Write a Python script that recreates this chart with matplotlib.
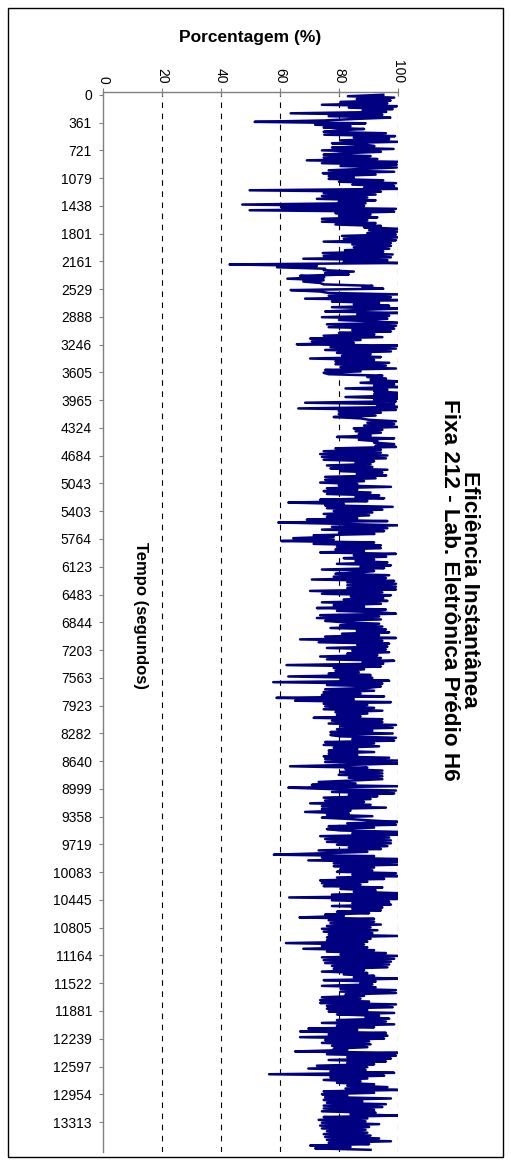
import numpy as np
import matplotlib
matplotlib.use("Agg")
import matplotlib.pyplot as plt
from matplotlib.patches import Rectangle

plt.rcParams["font.family"] = ["Liberation Sans", "DejaVu Sans"]

# efficiency (%) from top to bottom, one list per stretch of the axis
seg01 = [95, 83, 98.7, 86, 97.5, 80.5, 96.4, 74.2, 99.6, 83.3, 98.2, 88, 96, 63.6, 94.7, 76.5, 97.4, 85,
         75.3, 51.4, 89.0, 71.9, 83.9, 74.8, 88.5, 80, 74.8, 95.9, 75.0, 99.0, 85, 97, 80.5, 99.9, 77.6,
         89.0, 92, 77.6, 98.5, 74.2, 94.2, 82, 74.8, 90.7, 74.8, 93.0, 69.1, 99.9, 74.2, 99.6, 80.5, 99.6,
         88, 76.5, 98.7]
seg02 = [74.5, 92.4, 76.5, 85.0, 76.5, 95, 80, 99.3, 84.5, 98.7, 88.5, 99.9, 49.7, 94.2, 74.8, 92.4, 74.2,
         89.6, 72.5, 92.4, 79.9, 89.0, 47.2, 88.5, 60.5, 99.3, 49.7, 98.7, 78.8, 90.7, 80, 93, 74.2, 89.6,
         74.2, 92.4, 78.8, 94.2, 88.5, 99.9, 90.2, 99.9, 89.6, 99.3, 81.0, 99.9, 81.6, 99.3, 74.8, 97.6,
         84.5, 97.6, 85.0, 97.0, 82, 95, 74.5, 98.2, 74.8, 97.6, 67.9, 96.4]
seg03 = [81.6, 99.9, 42.9, 72.5, 59.0, 75.3, 74.8, 85.0, 75.3, 83.3, 66.8, 75.0, 62.5, 74.8, 67.9, 73.6,
         74.8, 91.3, 88, 95, 63.6, 73.6, 76.5, 99.9, 76.5, 97.6, 68.5, 99.9, 77.6, 93.6, 85, 97, 77.6, 99.9,
         86.2, 75.3, 99.9, 86.2, 97.0, 74.2, 96.4, 80, 93.0, 99.9, 75.9, 99.3, 76.5, 98.7, 84.5, 97.6, 80,
         92, 74.8, 94.7, 70.2, 87.3, 70.8, 85.0, 65.7, 99.9, 77.1, 99.3]
seg04 = [75.3, 97.6, 79.3, 90.7, 81.0, 94.2, 70.2, 91.9, 78.8, 97.0, 78.8, 95.9, 80.5, 99.3, 75.3, 87.3,
         74.8, 76.5, 94.7, 89.6, 95.9, 90.7, 99.9, 87.3, 98.7, 91.9, 99.9, 82.2, 96.4, 91.9, 99.9, 91.9,
         99.9, 82.2, 99.9, 91.9, 99.3, 68.5, 98.7, 93.0, 99.9, 66.2, 99.3, 79.9, 94.2, 79.9, 92.4, 78.2,
         87.3, 90.2, 99.3, 89.6, 98.7, 88.5, 99.9, 85.0, 94.7, 85.6, 94.2, 86.7, 90.7]
seg05 = [79.3, 98.7, 86.7, 93.0, 91.9, 98.7, 92.4, 99.3, 78.8, 94.2, 74.8, 94.2, 73.6, 96.4, 74.2, 95.9,
         74.8, 91.9, 85.6, 90.7, 75.9, 91.3, 77.1, 96.4, 80.5, 94.7, 86, 96, 75.3, 92.4, 75.3, 88.5, 73.6,
         86.2, 79.9, 97.6, 75.9, 86.2, 74.8, 90.7, 75.9, 93.6, 85.6, 95.3, 73.6, 89.6, 62.8, 81.6, 75.3,
         98.2, 75.9, 94.7, 78.2, 91.3, 74.8, 90.2, 75.9, 86.2, 69.1, 96.4, 59.4, 81.6]
seg06 = [99.9, 77.6, 96.4, 74.2, 95.3, 80, 92, 71.4, 78.2, 64.5, 78.2, 60.5, 91.9, 71.4, 94.2, 79.3, 94.2,
         78.8, 88.5, 73.6, 99.3, 85, 96, 81.6, 91.9, 85.6, 96.4, 79.3, 97.6, 87.3, 95.3, 74.2, 91.9, 87.3,
         78.8, 97.0, 78.2, 95.9, 70.8, 98.7, 82.8, 99.3, 82.8, 99.3, 82.8, 99.3, 70.2, 94.7, 74.2, 97.6,
         84, 95, 81.6, 96.4, 74.2, 94.2, 78.2, 88.5, 72.5, 95.9, 79.3, 94.2]
seg07 = [99.3, 73.6, 93.6, 72.5, 94.2, 75.3, 81.6, 93.6, 80.5, 94.7, 77.1, 95.9, 86, 97, 81.0, 93.6, 75.3,
         99.3, 66.8, 94.7, 73.1, 97.0, 86.2, 96.4, 75.9, 95.9, 84.5, 97.0, 82.8, 93.0, 73.6, 94.2, 75.9,
         98.7, 88, 95, 62.2, 94.2, 78.2, 88.5, 78.8, 86.7, 76.5, 90.7, 62.8, 91.3, 80.5, 97.0, 57.7, 94.7,
         75.9, 94.2, 90, 75.3, 91.9, 74.8, 87.3, 74.2, 95.3, 58.8, 85.0, 65.1]
seg08 = [97.6, 74.8, 89.6, 75.3, 91.9, 74.8, 94.7, 78.8, 89.6, 79.3, 87.3, 71.4, 94.7, 77.6, 94.7, 76.5,
         99.3, 80.5, 98.2, 79.3, 91.3, 77.1, 98.2, 77.1, 80.5, 99.3, 84.5, 98.7, 75.3, 91.9, 74.8, 93.6,
         78.2, 86.2, 76.5, 91.9, 76.5, 86.2, 74.8, 97.0, 75.3, 99.9, 75.3, 99.9, 83.9, 63.4, 89.6, 82.2,
         94.7, 80.5, 94.7, 79.9, 94.7, 83.3, 94.7, 84.5, 73.1, 85.6, 70.8, 99.9, 62.8]
seg09 = [77.6, 99.3, 77.6, 98.7, 83.3, 93.0, 74.8, 90.7, 75.3, 88.5, 70.2, 90.7, 74.2, 95.9, 74.2, 83.9,
         68.5, 83.3, 75.9, 91.3, 74.2, 83.9, 90.7, 99.9, 82.8, 99.3, 76.5, 91.9, 75.9, 80.5, 99.9, 84.5,
         99.9, 73.6, 97.0, 75.3, 97.6, 75.9, 97.6, 79.3, 96.4, 83.3, 94.2, 73.1, 89.6, 74.8, 57.9, 91.9,
         74.2, 99.9, 69.6, 99.9, 78.2, 99.9, 78.2, 91.9, 80.5, 91.3, 79.3, 99.3, 84.5, 99.9]
seg10 = [79.3, 95.3, 73.6, 89.6, 74.2, 87.3, 74.8, 94.7, 80.5, 92.4, 85.0, 99.9, 77.6, 99.9, 63.1, 99.9,
         77.6, 97.0, 84.5, 97.6, 77.6, 94.7, 84.5, 94.2, 79.3, 90.2, 75.3, 81.6, 66.6, 91.9, 76.5, 91.9,
         77.1, 94.2, 75.9, 90.7, 74.2, 93.0, 74.8, 91.3, 76.5, 99.9, 75.9, 90.7, 75.9, 89.6, 62.0, 88.5,
         74.2, 89.6, 67.9, 91.9, 75.9, 95.9, 80.5, 99.9, 74.2, 98.7, 74.8, 97.6, 75.3, 97.0]
seg11 = [77.6, 96.4, 78.2, 88.5, 74.2, 89.6, 81.6, 91.9, 85.0, 99.9, 74.8, 92.4, 87.3, 91.3, 74.2, 92.4,
         80.5, 99.3, 80.5, 99.3, 82.2, 88.5, 74.2, 87.3, 73.6, 90.2, 73.6, 99.3, 75.9, 98.2, 75.9, 89.6,
         76.5, 98.7, 79.3, 93.6, 89.0, 97.0, 79.3, 95.9, 74.2, 98.7, 79.3, 91.9, 69.6, 86.2, 66.8, 95.9,
         76.5, 96.4, 66.8, 95.3, 75.3, 90.2, 74.2, 90.7, 77.6, 89.6, 78.2, 82.8, 65.1, 99.9]
seg12 = [75.9, 99.3, 82.8, 97.6, 76.5, 95.9, 82.8, 91.9, 72.5, 89.6, 69.6, 89.0, 77.1, 98.7, 56.3, 95.3,
         77.1, 89.6, 74.8, 87.3, 79.3, 91.9, 82.8, 96.4, 82.2, 99.9, 74.8, 91.9, 74.2, 82.8, 75.3, 97.6,
         74.8, 87.9, 75.9, 95.9, 74.8, 94.7, 74.8, 91.9, 74.2, 92.4, 83.9, 99.9, 74.8, 89.6, 73.1, 89.0,
         74.2, 93.6, 73.6, 90.2, 74.2, 89.0, 75.9, 89.6, 74.8, 90.7, 75.3, 93.6, 75.9, 97.6, 76.5, 90.2,
         70.2, 83.9, 71.9, 90.7]

time_labels = ["0", "361", "721", "1079", "1438", "1801", "2161", "2529", "2888", "3246", "3605",
               "3965", "4324", "4684", "5043", "5403", "5764", "6123", "6483", "6844", "7203", "7563",
               "7923", "8282", "8640", "8999", "9358", "9719", "10083", "10445", "10805", "11164",
               "11522", "11881", "12239", "12597", "12954", "13313"]
pct_ticks = [0, 20, 40, 60, 80, 100]
grid_pcts = [20, 40, 60, 80, 100]

values = np.array(seg01 + seg02 + seg03 + seg04 + seg05 + seg06 + seg07 + seg08 + seg09 + seg10
                  + seg11 + seg12)
idx = np.arange(len(values))

fig = plt.figure(figsize=(5.11, 11.65), dpi=100)
ax = fig.add_axes([0.2016, 0.0112, 0.5773, 0.9099])

for g in grid_pcts:
    ax.axvline(g, color="black", linewidth=0.8, linestyle=(0, (5, 5)), zorder=1)

ax.plot(values, idx, color="#000080", linewidth=1.8, zorder=3)

ax.set_xlim(0, 100)
ax.set_ylim(len(values) + 0.5, -2)

ax.xaxis.tick_top()
ax.set_xticks(pct_ticks)
ax.set_xticklabels([str(p) for p in pct_ticks], rotation=-90, fontsize=10)
ax.tick_params(axis="x", direction="inout", length=6, pad=3, color="#808080")

step = (len(values) - 1) / 38.0
ax.set_yticks(np.arange(len(time_labels)) * step)
ax.set_yticklabels(time_labels, fontsize=10)
ax.tick_params(axis="y", direction="out", length=3, pad=5, color="#808080")

for side in ["right", "bottom"]:
    ax.spines[side].set_visible(False)
for side in ["top", "left"]:
    ax.spines[side].set_color("#808080")
    ax.spines[side].set_linewidth(1)

fig.text(0.49, 0.968, "Porcentagem (%)", fontsize=12.5, fontweight="bold", ha="center", va="center")
fig.text(0.274, 0.472, "Tempo (segundos)", fontsize=12, fontweight="bold", rotation=-90,
         ha="center", va="center")
fig.text(0.899, 0.494, "Eficiência Instantânea\nFixa 212 - Lab. Eletrônica Prédio H6", fontsize=16.2,
         fontweight="bold", rotation=-90, ha="center", va="center", multialignment="center",
         linespacing=0.95)

fig.patches.append(Rectangle((0.0157, 0.0069), 0.9687, 0.9863, transform=fig.transFigure,
                             fill=False, edgecolor="black", linewidth=1))

fig.savefig("out.png", dpi=100)
